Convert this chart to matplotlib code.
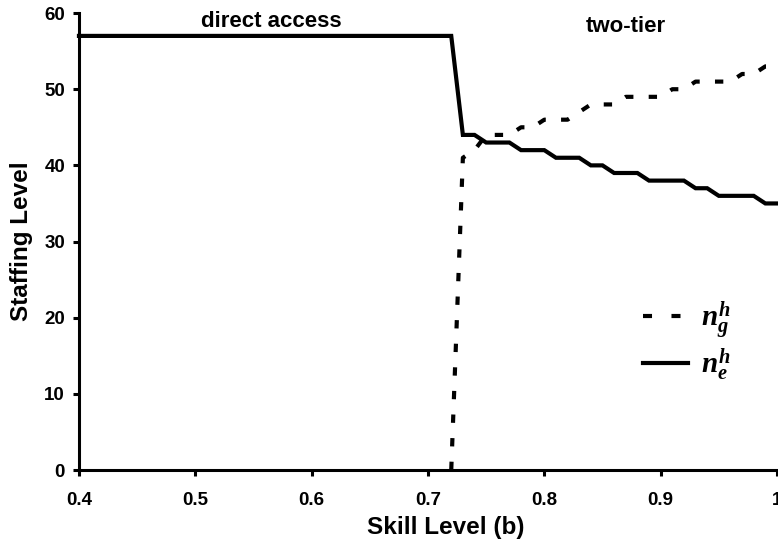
import matplotlib
matplotlib.use("Agg")
import matplotlib.pyplot as plt
from matplotlib.lines import Line2D

plt.rcParams["font.family"] = ["Liberation Sans", "DejaVu Sans"]
plt.rcParams["font.weight"] = "bold"
plt.rcParams["mathtext.fontset"] = "custom"
plt.rcParams["mathtext.it"] = "Liberation Serif:bold:italic"
plt.rcParams["mathtext.rm"] = "Liberation Serif:bold"
plt.rcParams["mathtext.bf"] = "Liberation Serif:bold"
plt.rcParams["lines.scale_dashes"] = False

# Skill level b and staffing levels
skill_e = [0.40, 0.41, 0.42, 0.43, 0.44, 0.45, 0.46, 0.47, 0.48, 0.49,
           0.50, 0.51, 0.52, 0.53, 0.54, 0.55, 0.56, 0.57, 0.58, 0.59,
           0.60, 0.61, 0.62, 0.63, 0.64, 0.65, 0.66, 0.67, 0.68, 0.69,
           0.70, 0.71, 0.72, 0.73, 0.74, 0.75, 0.76, 0.77, 0.78, 0.79,
           0.80, 0.81, 0.82, 0.83, 0.84, 0.85, 0.86, 0.87, 0.88, 0.89,
           0.90, 0.91, 0.92, 0.93, 0.94, 0.95, 0.96, 0.97, 0.98, 0.99, 1.00]
n_e = [57, 57, 57, 57, 57, 57, 57, 57, 57, 57,
       57, 57, 57, 57, 57, 57, 57, 57, 57, 57,
       57, 57, 57, 57, 57, 57, 57, 57, 57, 57,
       57, 57, 57, 44, 44, 43, 43, 43, 42, 42,
       42, 41, 41, 41, 40, 40, 39, 39, 39, 38,
       38, 38, 38, 37, 37, 36, 36, 36, 36, 35, 35]

skill_g = [0.72, 0.73, 0.74, 0.75, 0.76, 0.77, 0.78, 0.79,
           0.80, 0.81, 0.82, 0.83, 0.84, 0.85, 0.86, 0.87, 0.88, 0.89,
           0.90, 0.91, 0.92, 0.93, 0.94, 0.95, 0.96, 0.97, 0.98, 0.99, 1.00]
n_g = [0, 41, 42, 44, 44, 44, 45, 45,
       46, 46, 46, 47, 48, 48, 48, 49, 49, 49,
       49, 50, 50, 51, 51, 51, 51, 52, 52, 53, 53]

x_ticks = [0.4, 0.5, 0.6, 0.7, 0.8, 0.9, 1.0]
x_ticklabels = ["0.4", "0.5", "0.6", "0.7", "0.8", "0.9", "1"]
y_ticks = [0, 10, 20, 30, 40, 50, 60]

dash = (0, (6, 11))
legend_dash = (0, (6.5, 14))
lw = 3.0

fig = plt.figure(figsize=(7.78, 5.44), dpi=100)
ax = fig.add_axes([0.1015, 0.136, 0.8972, 0.840])

ax.plot(skill_g, n_g, color="black", lw=lw, linestyle=dash, clip_on=False)
ax.plot(skill_e, n_e, color="black", lw=lw, solid_joinstyle="miter", clip_on=False)

ax.set_xlim(0.4, 1.0)
ax.set_ylim(0, 60)
ax.set_xticks(x_ticks)
ax.set_xticklabels(x_ticklabels)
ax.set_yticks(y_ticks)

for s in ["top", "right"]:
    ax.spines[s].set_visible(False)
for s in ["left", "bottom"]:
    ax.spines[s].set_linewidth(2.2)

ax.tick_params(axis="both", direction="out", length=4, width=2.2, labelsize=13.5)
ax.tick_params(axis="x", pad=12)
ax.tick_params(axis="y", pad=6)

ax.set_xlabel("Skill Level (b)", fontsize=17.5, fontweight="bold", labelpad=5)
ax.xaxis.label.set_x(0.526)
ax.set_ylabel("Staffing Level", fontsize=17.5, fontweight="bold", labelpad=8)

ax.text(0.565, 58.9, "direct access", ha="center", va="center",
        fontsize=16, fontweight="bold")
ax.text(0.870, 58.3, "two-tier", ha="center", va="center",
        fontsize=16, fontweight="bold")

handles = [Line2D([], [], color="black", lw=lw, linestyle=legend_dash),
           Line2D([], [], color="black", lw=lw)]
ax.legend(handles, [r"$n_g^h$", r"$n_e^h$"], frameon=False,
          loc="center left", bbox_to_anchor=(0.808, 0.283),
          borderaxespad=0, borderpad=0, fontsize=21,
          handlelength=1.55, handletextpad=0.45, labelspacing=0.2)

fig.savefig("out.png", dpi=100)
